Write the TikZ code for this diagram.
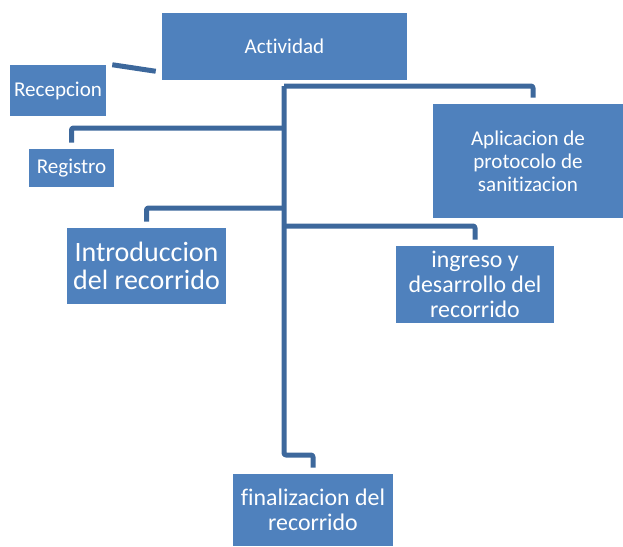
\documentclass[tikz,border=0pt]{standalone}
\usepackage{fontspec}
\setmainfont{Carlito}[Ligatures=NoCommon]
\usetikzlibrary{calc}

\definecolor{boxblue}{RGB}{79,129,189}
\definecolor{lineblue}{RGB}{61,104,156}

\begin{document}
\begin{tikzpicture}[x=0.75pt,y=-0.75pt]
        \tikzstyle{every path}=[line join=round]

        \edef\pw{0.75pt}
        \tikzstyle{box}=[fill=boxblue,text=white,inner sep=0pt,align=center]
        \tikzstyle{small}=[font=\fontsize{15.8pt}{17.3pt}\selectfont]
        \tikzstyle{mid}=[font=\fontsize{17.9pt}{19pt}\selectfont]
        \tikzstyle{big}=[font=\fontsize{21pt}{21pt}\selectfont]
        \tikzstyle{conn}=[draw=lineblue,line width=3.75pt,rounded corners=1.5pt]

        \useasboundingbox (0,0) rectangle (623,546);

        % boxes
        \node [box,small,minimum width=245*\pw,minimum height=67*\pw] (act) at (284.5,46.5) {Actividad};
        \node [box,small,minimum width=96*\pw,minimum height=51*\pw] (rec) at (58,90.5) {Recepcion};
        \node [box,small,minimum width=85*\pw,minimum height=38*\pw] (reg) at (71.5,168) {Registro};
        \node [box,small,minimum width=190*\pw,minimum height=114*\pw] (apl) at (528,161) {Aplicacion de\\protocolo de\\sanitizacion};
        \node [box,big,minimum width=159*\pw,minimum height=76*\pw] (intro) at (146.5,266) {Introduccion\\del recorrido};
        \node [box,mid,minimum width=158*\pw,minimum height=77*\pw] (ing) at (475,284.5) {ingreso y\\desarrollo del\\recorrido};
        \node [box,mid,minimum width=160*\pw,minimum height=72*\pw] (fin) at (313,510) {finalizacion del\\recorrido};

        % joints of the trunk
        \coordinate (top) at (284,86);
        \coordinate (knee) at (284,455);

        % connectors
        \draw[conn] ($(rec.north east)+(6,0)$) -- ($(act.south west)+(-6,-9)$);
        \draw[conn, shorten >=4.5pt] (top) -- (knee) -| (fin.north);      % trunk
        \draw[conn, shorten >=4.5pt] (top) -| ([xshift=5*\pw]apl.north);  % top right
        \draw[conn, shorten >=4.5pt] (top |- 0,128) -| (reg.north);       % left
        \draw[conn, shorten >=4.5pt] (top |- 0,208) -| (intro.north);     % left
        \draw[conn, shorten >=4.5pt] (top |- 0,226) -| (ing.north);       % right
        \end{tikzpicture}
\end{document}
